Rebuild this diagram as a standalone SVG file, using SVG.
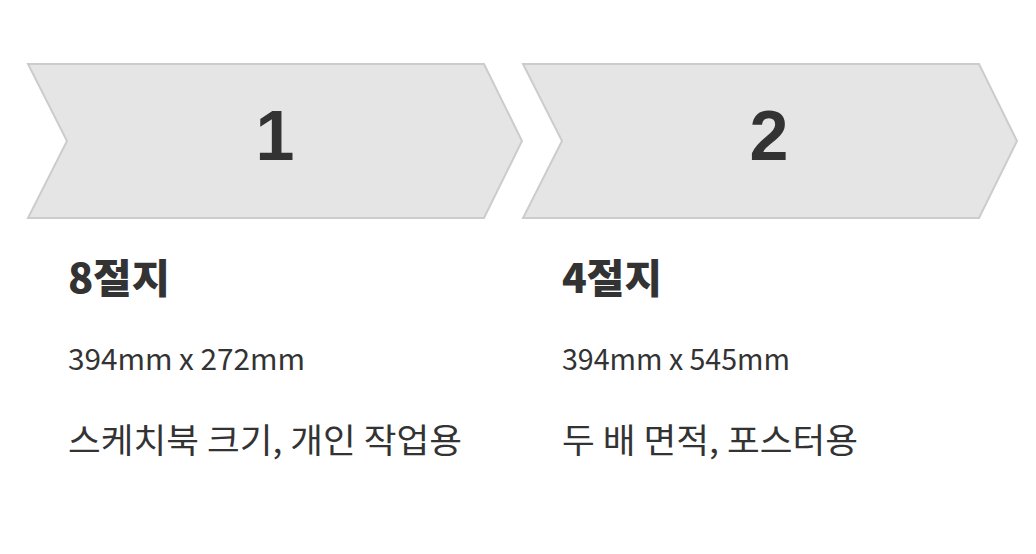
<svg xmlns="http://www.w3.org/2000/svg" width="1036" height="554" viewBox="0 0 1036 554">
<style>
.chev{fill:#e5e5e5;stroke:#cccccc;stroke-width:2;stroke-linejoin:miter}
.num{font-family:"Liberation Sans","Noto Sans",sans-serif;font-weight:bold;font-size:70px;fill:#333333;text-anchor:middle}
.head{font-family:"Noto Sans CJK KR","Noto Sans",sans-serif;font-weight:900;font-size:40px;fill:#333333}
.sub{font-family:"Noto Sans CJK KR","Noto Sans",sans-serif;font-size:29px;fill:#333333}
.desc{font-family:"Noto Sans CJK KR","Noto Sans",sans-serif;font-size:34px;fill:#333333}
</style>
<rect width="1036" height="554" fill="#ffffff"/>
<g id="step1">
<polygon class="chev" points="28,64 484,64 522,141 484,218 28,218 67,141"/>
<text class="num" x="275" y="160">1</text>
<text class="head" x="68" y="293" textLength="102" lengthAdjust="spacingAndGlyphs">8절지</text>
<text class="sub" x="68" y="370" textLength="237" lengthAdjust="spacingAndGlyphs">394mm x 272mm</text>
<text class="desc" x="68" y="453" textLength="394" lengthAdjust="spacingAndGlyphs">스케치북 크기, 개인 작업용</text>
</g>
<g id="step2">
<polygon class="chev" points="523,64 979,64 1017,141 979,218 523,218 562,141"/>
<text class="num" x="769" y="160">2</text>
<text class="head" x="562" y="293" textLength="100" lengthAdjust="spacingAndGlyphs">4절지</text>
<text class="sub" x="562" y="370" textLength="228" lengthAdjust="spacingAndGlyphs">394mm x 545mm</text>
<text class="desc" x="562" y="453" textLength="296" lengthAdjust="spacingAndGlyphs">두 배 면적, 포스터용</text>
</g>
<g id="connectors"></g>
</svg>
